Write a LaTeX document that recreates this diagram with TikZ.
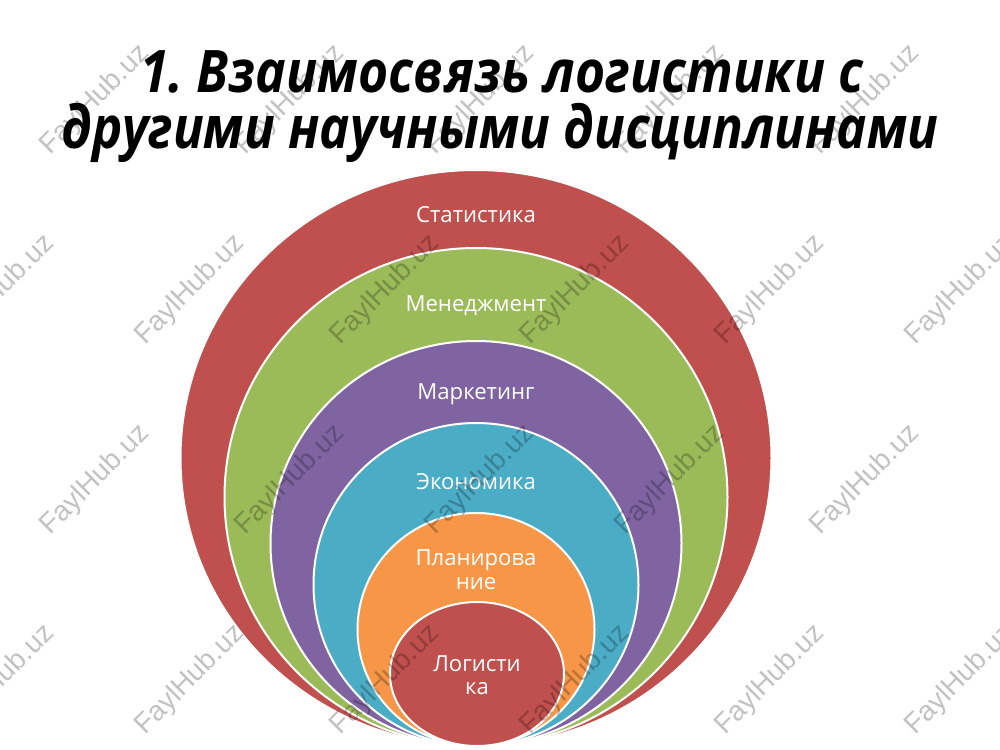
\documentclass[tikz,border=0pt]{standalone}
\usepackage{fontspec}
\setmainfont{Open Sans}
\newfontfamily\wmfont{Liberation Sans}
\usetikzlibrary{shapes.geometric}
\definecolor{cRed}{HTML}{C0504D}
\definecolor{cGreen}{HTML}{9BBB59}
\definecolor{cPurple}{HTML}{8064A2}
\definecolor{cTeal}{HTML}{4BACC6}
\definecolor{cOrange}{HTML}{F79646}
\frenchspacing
\begin{document}
\begin{tikzpicture}[x=0.75pt,y=-0.75pt,
  ring/.style={ellipse, draw=white, line width=1.5pt, inner sep=0pt},
  lbl/.style={text=white, font=\fontsize{16.6}{19}\selectfont, anchor=base, inner sep=0pt},
  ttl/.style={font=\fontsize{44}{44}\selectfont\bfseries\itshape, anchor=base, inner sep=0pt},
  wm/.style={font=\wmfont\fontsize{21}{21}\selectfont, text=black, text opacity=0.24, rotate=45, inner sep=0pt}]
\useasboundingbox (0,0) rectangle (1000,750);
\fill[white] (0,0) rectangle (1000,750);
% title
\node[ttl] (t1) at (502,92) {\scalebox{0.88}[1]{1. Взаимосвязь логистики с}};
\node[ttl] (t2) at (500,148) {\scalebox{0.87}[1]{другими научными дисциплинами}};
% nested ellipses
\node[ring, fill=cRed,    minimum width=591*0.75pt, minimum height=576*0.75pt] (stat) at (476,458) {};
\node[ring, fill=cGreen,  minimum width=503*0.75pt, minimum height=498*0.75pt] (men)  at (476,497) {};
\node[ring, fill=cPurple, minimum width=411*0.75pt, minimum height=405*0.75pt] (mark) at (476,543.5) {};
\node[ring, fill=cTeal,   minimum width=325*0.75pt, minimum height=323*0.75pt] (eco)  at (476,584.5) {};
\node[ring, fill=cOrange, minimum width=237*0.75pt, minimum height=233*0.75pt] (plan) at (476,629.5) {};
\node[ring, fill=cRed,    minimum width=174*0.75pt, minimum height=144*0.75pt] (log)  at (477,674) {};
% labels
\node[lbl] (lstat) at (476,222) {Статистика};
\node[lbl] (lmen)  at (476,311) {Менеджмент};
\node[lbl] (lmark) at (476,399) {Маркетинг};
\node[lbl] (leco)  at (476,489) {Экономика};
\node[lbl] (lplan1) at (476,565) {Планирова};
\node[lbl] (lplan2) at (476,589) {ние};
\node[lbl] (llog1) at (477,671) {Логисти};
\node[lbl] (llog2) at (477,694) {ка};
% watermarks
\foreach \x [count=\i] in {95,290,480,670,865}{
  \node[wm] (wa\i) at (\x,100) {FaylHub.uz};
  \node[wm] (wc\i) at (\x,480) {FaylHub.uz};
}
\foreach \x [count=\i] in {0,190,385,575,770,960}{
  \node[wm] (wb\i) at (\x,290) {FaylHub.uz};
  \node[wm] (wd\i) at (\x,680) {FaylHub.uz};
}
\end{tikzpicture}
\end{document}
